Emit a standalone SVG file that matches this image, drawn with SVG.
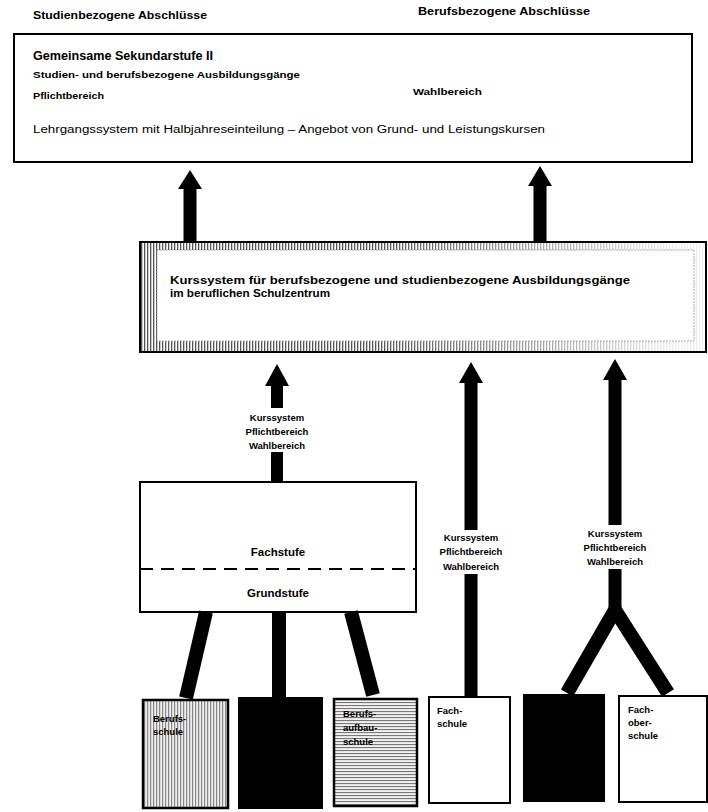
<svg xmlns="http://www.w3.org/2000/svg" width="708" height="812" viewBox="0 0 708 812">
<defs>
  <pattern id="vhatch" width="3" height="10" patternUnits="userSpaceOnUse">
    <rect width="3" height="10" fill="#fff"/>
    <rect width="1.3" height="10" fill="#555"/>
  </pattern>
  <pattern id="vhatch2" width="3" height="10" patternUnits="userSpaceOnUse">
    <rect width="3" height="10" fill="#eee"/>
    <rect width="1.2" height="10" fill="#888"/>
  </pattern>
  <pattern id="hhatch" width="10" height="3" patternUnits="userSpaceOnUse">
    <rect width="10" height="3" fill="#f2f2f2"/>
    <rect width="10" height="1.1" fill="#777"/>
  </pattern>
  <linearGradient id="fade" x1="0" y1="0" x2="1" y2="0">
    <stop offset="0.4" stop-color="#fff" stop-opacity="0"/>
    <stop offset="0.95" stop-color="#fff" stop-opacity="0.9"/>
  </linearGradient>
</defs>
<style>
  text { font-family: "Liberation Sans", Arial, sans-serif; fill: #000; }
  .b { font-weight: bold; }
  .lbl { font-weight: bold; font-size: 9.5px; text-anchor: middle; }
  .box { fill: #fff; stroke: #000; stroke-width: 2; }
  .arrow { fill: #000; }
  .leg { stroke: #000; stroke-width: 14; fill: none; }
  .small { font-weight: bold; font-size: 9.5px; }
</style>

<g id="labels-top">
  <text class="b" x="33" y="19" font-size="10.5" textLength="174" lengthAdjust="spacingAndGlyphs">Studienbezogene Abschlüsse</text>
  <text class="b" x="418" y="15" font-size="10.5" textLength="172" lengthAdjust="spacingAndGlyphs">Berufsbezogene Abschlüsse</text>
</g>

<g id="sekundarstufe">
  <rect class="box" x="14" y="34" width="678" height="128"/>
  <text class="b" x="33" y="60" font-size="12.5" textLength="180" lengthAdjust="spacingAndGlyphs">Gemeinsame Sekundarstufe II</text>
  <text class="b" x="33" y="78" font-size="9.5" textLength="267" lengthAdjust="spacingAndGlyphs">Studien- und berufsbezogene Ausbildungsgänge</text>
  <text class="b" x="33" y="99" font-size="9.5" textLength="71" lengthAdjust="spacingAndGlyphs">Pflichtbereich</text>
  <text class="b" x="413" y="95" font-size="9.5" textLength="69" lengthAdjust="spacingAndGlyphs">Wahlbereich</text>
  <text x="33" y="133" font-size="10" textLength="512" lengthAdjust="spacingAndGlyphs">Lehrgangssystem mit Halbjahreseinteilung – Angebot von Grund- und Leistungskursen</text>
</g>

<g id="kurssystem">
  <rect x="140" y="242" width="566" height="110" fill="url(#vhatch)" stroke="#000" stroke-width="2"/>
  <rect x="157" y="243" width="548" height="108" fill="url(#fade)"/>
  <rect x="157" y="250" width="537" height="91" fill="#fff" stroke="#999" stroke-width="0.8" stroke-dasharray="2 1"/>
  <text class="b" x="170" y="284" font-size="11" textLength="460" lengthAdjust="spacingAndGlyphs">Kurssystem für berufsbezogene und studienbezogene Ausbildungsgänge</text>
  <text class="b" x="170" y="297" font-size="11" textLength="160" lengthAdjust="spacingAndGlyphs">im beruflichen Schulzentrum</text>
</g>

<g id="fach-grund">
  <rect class="box" x="140" y="482" width="276" height="130"/>
  <line x1="140" y1="569" x2="416" y2="569" stroke="#000" stroke-width="2.2" stroke-dasharray="13 8"/>
  <text class="b" x="278" y="556" font-size="11.5" text-anchor="middle">Fachstufe</text>
  <text class="b" x="278" y="597" font-size="11.5" text-anchor="middle">Grundstufe</text>
</g>

<g id="connectors">
  <polygon class="arrow" points="190,170 202,189 196.5,189 196.5,241 183.5,241 183.5,189 178,189"/>
  <polygon class="arrow" points="540,166 552,186 546.5,186 546.5,241 533.5,241 533.5,186 528,186"/>
  <polygon class="arrow" points="277,364 289,386 283,386 283,482 271,482 271,386 265,386"/>
  <polygon class="arrow" points="471,362 483,383 477.5,383 477.5,697 464.5,697 464.5,383 459,383"/>
  <polygon class="arrow" points="615,359 627,380 621.5,380 621.5,612 608.5,612 608.5,380 603,380"/>
  <polyline class="leg" points="567,693 615,610 668,693" stroke-width="15" stroke-linejoin="miter"/>
  <line class="leg" x1="206" y1="612" x2="186" y2="698"/>
  <line class="leg" x1="279" y1="612" x2="279" y2="697"/>
  <line class="leg" x1="351" y1="612" x2="373" y2="695"/>
  <rect x="236" y="408" width="82" height="44" fill="#fff"/>
  <text class="lbl" x="277" y="421">Kurssystem</text>
  <text class="lbl" x="277" y="435">Pflichtbereich</text>
  <text class="lbl" x="277" y="449">Wahlbereich</text>
  <rect x="430" y="530" width="82" height="44" fill="#fff"/>
  <text class="lbl" x="471" y="541">Kurssystem</text>
  <text class="lbl" x="471" y="555">Pflichtbereich</text>
  <text class="lbl" x="471" y="570">Wahlbereich</text>
  <rect x="574" y="525" width="82" height="44" fill="#fff"/>
  <text class="lbl" x="615" y="537">Kurssystem</text>
  <text class="lbl" x="615" y="551">Pflichtbereich</text>
  <text class="lbl" x="615" y="565">Wahlbereich</text>
</g>

<g id="berufsschule">
  <rect x="143" y="700" width="85" height="108" fill="url(#vhatch2)" stroke="#000" stroke-width="2.5"/>
  <text class="small" x="153" y="722">Berufs-</text>
  <text class="small" x="153" y="735">schule</text>
</g>
<g id="black-1">
  <rect x="238" y="697" width="85" height="112" fill="#000"/>
</g>
<g id="berufsaufbauschule">
  <rect x="334" y="699" width="83" height="107" fill="url(#hhatch)" stroke="#000" stroke-width="2.5"/>
  <text class="small" x="343" y="717">Berufs-</text>
  <text class="small" x="343" y="731">aufbau-</text>
  <text class="small" x="343" y="745">schule</text>
</g>
<g id="fachschule">
  <rect x="429" y="697" width="81" height="106" fill="#fff" stroke="#000" stroke-width="2"/>
  <text class="small" x="437" y="714">Fach-</text>
  <text class="small" x="437" y="727">schule</text>
</g>
<g id="black-2">
  <rect x="523" y="694" width="82" height="108" fill="#000"/>
</g>
<g id="fachoberschule">
  <rect x="619" y="696" width="88" height="106" fill="#fff" stroke="#000" stroke-width="2"/>
  <text class="small" x="628" y="713">Fach-</text>
  <text class="small" x="628" y="726">ober-</text>
  <text class="small" x="628" y="739">schule</text>
</g>
</svg>
